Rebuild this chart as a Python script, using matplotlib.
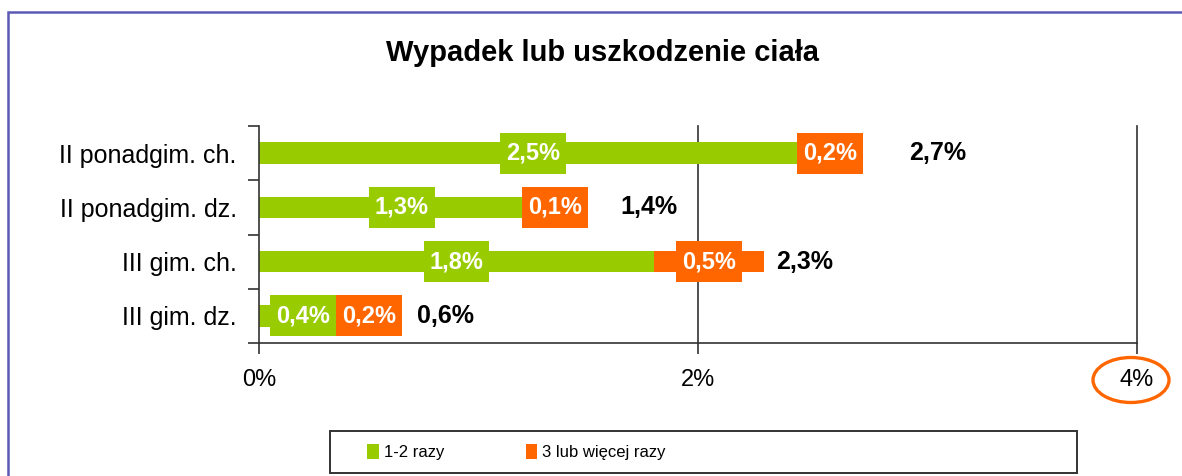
import numpy as np
import matplotlib.pyplot as plt
from matplotlib.patches import Rectangle, Ellipse

plt.rcParams['font.family'] = ['Liberation Sans', 'DejaVu Sans']

# data
categories = ["II ponadgim. ch.", "II ponadgim. dz.", "III gim. ch.", "III gim. dz."]
once_twice = [2.5, 1.3, 1.8, 0.4]        # 1-2 razy
three_more = [0.2, 0.1, 0.5, 0.2]        # 3 lub wiecej razy
totals = [2.7, 1.4, 2.3, 0.6]
xticks = [0, 2, 4]
xtick_labels = ["0%", "2%", "4%"]
series_names = ["1-2 razy", "3 lub więcej razy"]

GREEN = "#99CC00"
ORANGE = "#FF6600"

fig = plt.figure(figsize=(11.82, 4.76), dpi=100)
ax = fig.add_axes([259 / 1182, 1 - 343 / 476, 878 / 1182, 217 / 476])

y = np.arange(len(categories))
ax.barh(y, once_twice, height=0.4, color=GREEN, zorder=2, label=series_names[0])
ax.barh(y, three_more, left=once_twice, height=0.4, color=ORANGE, zorder=2, label=series_names[1])

def fmt(v):
    return f"{v:.1f}%".replace(".", ",")

# value labels on boxes
box_w, box_h = 0.30, 0.76
for i in range(len(categories)):
    segs = [(0, once_twice[i], GREEN), (once_twice[i], three_more[i], ORANGE)]
    for left, w, col in segs:
        cx = left + w / 2
        if cx - box_w / 2 < 0:
            cx = box_w / 2 + 0.05
        ax.add_patch(Rectangle((cx - box_w / 2, i - box_h / 2), box_w, box_h,
                               facecolor=col, edgecolor="none", zorder=3))
        ax.text(cx, i, fmt(w), color="white", fontsize=17, fontweight="bold",
                ha="center", va="center", zorder=4)

# totals
total_offsets = [0.263, 0.248, 0.056, 0.121]
for i, t in enumerate(totals):
    ax.text(t + total_offsets[i], i, fmt(t), color="black", fontsize=18,
            fontweight="bold", ha="left", va="center", zorder=4)

ax.set_xlim(0, 4)
ax.set_ylim(3.5, -0.5)
for gx in xticks[1:]:
    ax.axvline(gx, color="#333333", linewidth=1.2, zorder=1, clip_on=False)

ax.set_xticks(xticks)
ax.set_xticklabels(xtick_labels, fontsize=17)
ax.set_yticks(y)
ax.set_yticklabels(categories, fontsize=18)
ax.set_yticks(np.arange(-0.5, len(categories), 1), minor=True)
ax.tick_params(axis="y", which="major", length=0, pad=16)
ax.tick_params(axis="y", which="minor", length=8, width=1.2, color="#333333")
ax.tick_params(axis="x", length=8, width=1.2, color="#333333", pad=11)
for s in ["top", "right"]:
    ax.spines[s].set_visible(False)
for s in ["left", "bottom"]:
    ax.spines[s].set_color("#333333")
    ax.spines[s].set_linewidth(1.2)

fig.text(0.51, 1 - 53 / 476, "Wypadek lub uszkodzenie ciała", fontsize=21,
         fontweight="bold", ha="center", va="center")

# orange ellipse around 4%
fig.patches.append(Ellipse((1131 / 1182, 1 - 380 / 476), 76 / 1182, 45 / 476,
                           transform=fig.transFigure, fill=False,
                           edgecolor=ORANGE, linewidth=2.4))

# legend frame and legend
fig.patches.append(Rectangle((330 / 1182, 1 - 473 / 476), 747 / 1182, 42 / 476,
                             transform=fig.transFigure, fill=False,
                             edgecolor="#333333", linewidth=1.4))
fig.legend(loc="center left", bbox_to_anchor=(352 / 1182, 1 - 452 / 476),
           ncol=2, frameon=False, fontsize=12, handlelength=0.7, handleheight=1.0,
           handletextpad=0.3, columnspacing=4.9)

# outer border
fig.patches.append(Rectangle((8 / 1182, -0.1), 1.2, 1 - 12 / 476 + 0.1,
                             transform=fig.transFigure, fill=False,
                             edgecolor="#5a5ab4", linewidth=1.8))

fig.savefig("out.png", dpi=100)
